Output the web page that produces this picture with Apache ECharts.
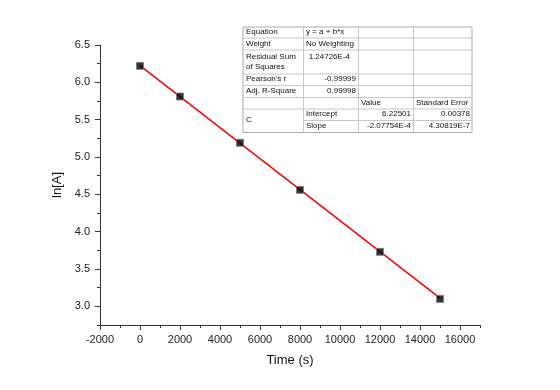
<!DOCTYPE html>
<html>
<head>
<meta charset="utf-8">
<script src="https://cdn.jsdelivr.net/npm/echarts@6/dist/echarts.min.js"></script>
<style>
  html, body { margin: 0; padding: 0; background: #fff; }
  #main { width: 560px; height: 390px; }
</style>
</head>
<body>
<div id="main"></div>
<script>
// measured points, ln[A] against time
var times = [0, 2000, 5000, 8000, 12000, 15000];
var lnA = [6.22, 5.81, 5.19, 4.56, 3.73, 3.10];
// fitted line end points
var fitX = [0, 15000];
var fitY = [6.225, 3.109];

var xTicks = [-2000, 0, 2000, 4000, 6000, 8000, 10000, 12000, 14000, 16000];
var xMinor = [-1000, 1000, 3000, 5000, 7000, 9000, 11000, 13000, 15000, 17000];
var yTicks = [3.0, 3.5, 4.0, 4.5, 5.0, 5.5, 6.0, 6.5];
var yMinor = [2.75, 3.25, 3.75, 4.25, 4.75, 5.25, 5.75, 6.25];

// fit result table text
var tableRows = [
  ["Equation", "y = a + b*x", "", ""],
  ["Weight", "No Weighting", "", ""],
  ["Residual Sum\nof Squares", "1.24726E-4", "", ""],
  ["Pearson's r", "-0.99999", "", ""],
  ["Adj. R-Square", "0.99998", "", ""],
  ["", "", "Value", "Standard Error"],
  ["C", "Intercept", "6.22501", "0.00378"],
  ["", "Slope", "-2.07754E-4", "4.30819E-7"]
];

var myChart = echarts.init(document.getElementById("main"));

var font = "Liberation Sans, Arial, sans-serif";
var axisColor = "#333";

// table layout
var colX = [243, 303, 358, 413, 472];
var rowY = [27, 37.5, 49.5, 73.5, 85, 97, 108.5, 120, 132.5];
var lineColor = "#c8c8c8";

function buildTable() {
  var els = [];
  els.push({
    type: "rect",
    shape: { x: colX[0], y: rowY[0], width: colX[4] - colX[0], height: rowY[8] - rowY[0] },
    style: { fill: "#fff", stroke: "#aaa", lineWidth: 1 },
    z: 100
  });
  // horizontal lines (skip the one crossing the merged "C" cell in col 0)
  for (var r = 1; r < 8; r++) {
    var x0 = r === 7 ? colX[1] : colX[0];
    els.push({
      type: "line",
      shape: { x1: x0, y1: rowY[r] + 0.5, x2: colX[4], y2: rowY[r] + 0.5 },
      style: { stroke: lineColor, lineWidth: 1 },
      z: 101
    });
  }
  for (var c = 1; c < 4; c++) {
    els.push({
      type: "line",
      shape: { x1: colX[c] + 0.5, y1: rowY[0], x2: colX[c] + 0.5, y2: rowY[8] },
      style: { stroke: lineColor, lineWidth: 1 },
      z: 101
    });
  }
  tableRows.forEach(function (row, r) {
    row.forEach(function (txt, c) {
      if (!txt) return;
      var numeric = /^-?[0-9]/.test(txt);
      var x, align;
      if (numeric) { x = colX[c + 1] - 2; align = "right"; }
      else { x = colX[c] + 3; align = "left"; }
      var y, vAlign = "middle";
      y = (rowY[r] + rowY[r + 1]) / 2;
      if (r === 2) {
        y = rowY[r] + 2; vAlign = "top";
        if (c === 1) x = colX[2] - 8;
      }
      if (r === 6 && c === 0) y = rowY[7];
      els.push({
        type: "text",
        x: x, y: y,
        style: {
          text: txt, fill: "#111", font: "8px " + font,
          align: align, verticalAlign: vAlign, lineHeight: 10
        },
        z: 102
      });
    });
  });
  return els;
}

var fitData = fitX.map(function (x, i) { return [x, fitY[i]]; });
var pointData = times.map(function (t, i) { return [t, lnA[i]]; });

myChart.setOption({
  animation: false,
  grid: { left: 100, right: 80, top: 45, bottom: 65 },
  textStyle: { fontFamily: font },
  xAxis: [
    {
      type: "value", min: -2000, max: 17000, position: "bottom",
      name: "Time (s)", nameLocation: "middle", nameGap: 29,
      nameTextStyle: { fontSize: 13, color: "#111", fontFamily: font },
      axisLine: { onZero: false, lineStyle: { color: axisColor, width: 1 } },
      axisTick: { customValues: xTicks, length: 5, inside: false, lineStyle: { color: axisColor } },
      axisLabel: {
        customValues: xTicks, fontSize: 11, color: "#222", margin: 9, fontFamily: font,
        formatter: function (v) { return String(v); }
      },
      splitLine: { show: false }
    },
    {
      type: "value", min: -2000, max: 17000, position: "bottom",
      axisLine: { show: false, onZero: false },
      axisTick: { customValues: xMinor, length: 3, lineStyle: { color: axisColor } },
      axisLabel: { show: false },
      splitLine: { show: false }
    }
  ],
  yAxis: [
    {
      type: "value", min: 2.75, max: 6.5, position: "left",
      name: "ln[A]", nameLocation: "middle", nameGap: 36, nameRotate: 90,
      nameTextStyle: { fontSize: 13, color: "#111", fontFamily: font },
      axisLine: { show: true, onZero: false, lineStyle: { color: axisColor, width: 1 } },
      axisTick: { show: true, customValues: yTicks, length: 5, lineStyle: { color: axisColor } },
      axisLabel: {
        customValues: yTicks, fontSize: 11, color: "#222", margin: 10, fontFamily: font,
        formatter: function (v) { return v.toFixed(1); }
      },
      splitLine: { show: false }
    },
    {
      type: "value", min: 2.75, max: 6.5, position: "left",
      axisLine: { show: false, onZero: false },
      axisTick: { show: true, customValues: yMinor, length: 3, lineStyle: { color: axisColor } },
      axisLabel: { show: false },
      splitLine: { show: false }
    }
  ],
  series: [
    {
      type: "line", data: fitData, showSymbol: false, symbol: "none",
      lineStyle: { color: "#ff0000", width: 1.5 }, z: 2, silent: true
    },
    {
      type: "scatter", data: pointData, symbol: "rect", symbolSize: 7,
      itemStyle: { color: "#000", borderColor: "#777", borderWidth: 1 }, z: 3
    }
  ],
  graphic: buildTable()
});
</script>
</body>
</html>
